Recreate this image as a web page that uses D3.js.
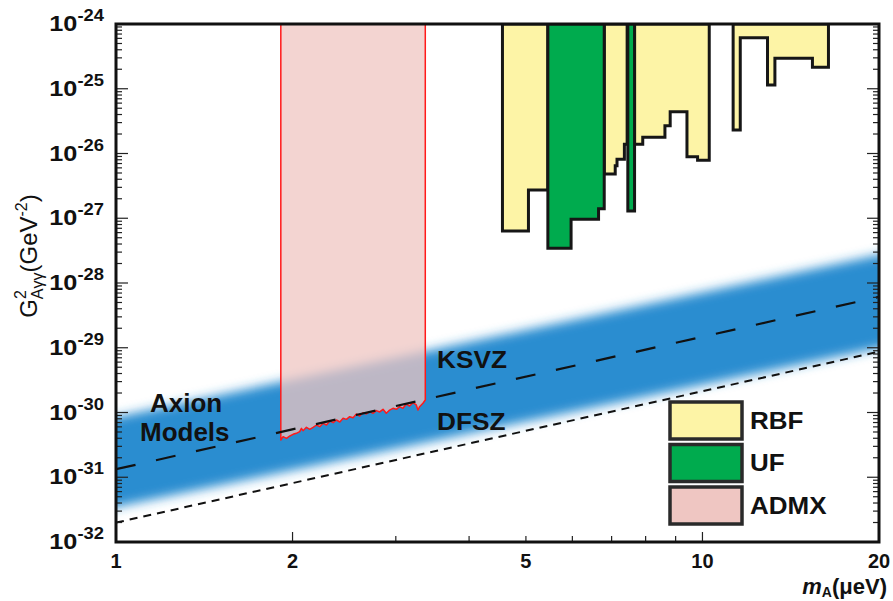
<!DOCTYPE html>
<html>
<head>
<meta charset="utf-8">
<script src="https://cdn.jsdelivr.net/npm/d3@7"></script>
<style>
  html, body { margin: 0; padding: 0; background: #fff; }
  svg { display: block; }
  text { font-family: "Liberation Sans", Arial, sans-serif; }
</style>
</head>
<body>
<svg id="chart" width="893" height="601"></svg>
<script>
// Axion mass range (µeV) and coupling range (GeV^-2)
const massDomain = [1, 20];
const couplingDomain = [1e-32, 1e-24];
const massTicks = [1, 2, 5, 10, 20];
const couplingTickExponents = [-24, -25, -26, -27, -28, -29, -30, -31, -32];

// Model lines (m in µeV, G^2 in GeV^-2)
const ksvzMass = [1, 20];
const ksvzCoupling = [1.33e-31, 6.1e-29];
const dfszMass = [1, 20];
const dfszCoupling = [1.99e-32, 8.7e-30];

// Axion-model band edges
const bandMass = [1, 20];
const bandUpper = [8.5e-31, 2.71e-28];
const bandLower = [3.48e-32, 9.9e-30];

// RBF exclusion regions: step edges (µeV) and floor of each step
const rbfA_edges = [4.56, 5.05, 5.45];
const rbfA_floor = [6.35e-28, 2.73e-27];
const rbfB_edges = [6.80, 7.10, 7.15, 7.36, 7.44];
const rbfB_floor = [4.82e-27, 6.48e-27, 8.13e-27, 1.39e-26];
const rbfC_edges = [7.66, 7.91, 8.63, 8.81, 9.41, 9.81, 10.27];
const rbfC_floor = [1.39e-26, 1.78e-26, 2.69e-26, 4.42e-26, 8.93e-27, 7.85e-27];
const rbfD_edges = [11.28, 11.60, 12.91, 13.29, 15.40, 16.40];
const rbfD_floor = [2.31e-26, 6.14e-25, 1.14e-25, 2.95e-25, 2.14e-25];

// UF exclusion regions
const ufA_edges = [5.45, 5.97, 6.65, 6.80];
const ufA_floor = [3.43e-28, 9.64e-28, 1.40e-27];
const ufB_edges = [7.46, 7.66];
const ufB_floor = [1.29e-27];

// ADMX exclusion limit
const admxMass = [1.910,1.927,1.953,1.979,2.004,2.030,2.057,2.071,2.084,2.112,2.140,2.168,2.197,2.226,2.255,2.285,2.315,2.346,2.376,2.408,2.439,2.471,2.503,2.536,2.570,2.603,2.638,2.672,2.707,2.743,2.779,2.816,2.853,2.890,2.928,2.967,3.006,3.045,3.085,3.126,3.167,3.209,3.251,3.272,3.294,3.337,3.368];
const admxLimit = [3.76e-31,4.23e-31,3.99e-31,4.34e-31,4.60e-31,4.77e-31,5.06e-31,5.70e-31,5.24e-31,5.90e-31,5.50e-31,5.90e-31,6.41e-31,6.04e-31,6.80e-31,6.41e-31,7.39e-31,6.97e-31,7.66e-31,7.13e-31,8.13e-31,7.84e-31,8.62e-31,8.32e-31,9.48e-31,8.83e-31,9.94e-31,9.48e-31,1.03e-30,9.71e-31,1.07e-30,1.02e-30,1.12e-30,9.71e-31,1.09e-30,1.16e-30,1.12e-30,1.23e-30,1.16e-30,1.35e-30,1.26e-30,1.42e-30,1.31e-30,1.09e-30,1.23e-30,1.39e-30,1.56e-30];

const legendLabels = ["RBF", "UF", "ADMX"];
const colors = { rbf: "#fdf4a6", uf: "#00ab4e", admx: "#efc6c2", band: "#2a8dd0" };

(function draw() {
  const svg = d3.select("#chart");
  const pl = 116, pr = 879, pt = 24, pb = 542;

  const x = d3.scaleLog().domain(massDomain).range([pl, pr]);
  const y = d3.scaleLog().domain(couplingDomain).range([pb, pt]);

  const defs = svg.append("defs");
  defs.append("clipPath").attr("id", "plotClip")
    .append("rect").attr("x", pl).attr("y", pt).attr("width", pr - pl).attr("height", pb - pt);
  defs.append("filter").attr("id", "soft").attr("x", "-20%").attr("y", "-20%").attr("width", "140%").attr("height", "140%")
    .append("feGaussianBlur").attr("stdDeviation", 5.5);

  const plot = svg.append("g").attr("clip-path", "url(#plotClip)");

  // Model band: extend edges past the frame so the blur only softens top/bottom
  function extendLine(p0, p1, ext) {
    const s = (p1[1] - p0[1]) / (p1[0] - p0[0]);
    return [[p0[0] - ext, p0[1] - s * ext], [p1[0] + ext, p1[1] + s * ext]];
  }
  const up = extendLine([x(bandMass[0]), y(bandUpper[0])], [x(bandMass[1]), y(bandUpper[1])], 40);
  const lo = extendLine([x(bandMass[0]), y(bandLower[0])], [x(bandMass[1]), y(bandLower[1])], 40);
  plot.append("g").attr("filter", "url(#soft)")
    .append("path")
    .attr("d", "M" + [up[0], up[1], lo[1], lo[0]].map(p => p.join(",")).join("L") + "Z")
    .attr("fill", colors.band);

  // ADMX excluded region
  const lineGen = d3.line().x(d => x(d[0])).y(d => y(d[1]));
  const admxPts = admxMass.map((m, i) => [m, admxLimit[i]]);
  const admxArea = [[admxMass[0], couplingDomain[1]], ...admxPts, [admxMass[admxMass.length - 1], couplingDomain[1]]];
  plot.append("path").attr("d", lineGen(admxArea) + "Z")
    .attr("fill", colors.admx).attr("fill-opacity", 0.75)
    .attr("stroke", "#ff1a1a").attr("stroke-width", 1.5).attr("stroke-linejoin", "round");

  // Step-shaped exclusion blocks
  function stepPoints(edges, floors) {
    const pts = [[edges[0], couplingDomain[1]]];
    floors.forEach((f, i) => { pts.push([edges[i], f]); pts.push([edges[i + 1], f]); });
    pts.push([edges[edges.length - 1], couplingDomain[1]]);
    return pts;
  }
  const blocks = [
    [rbfA_edges, rbfA_floor, colors.rbf],
    [rbfB_edges, rbfB_floor, colors.rbf],
    [rbfC_edges, rbfC_floor, colors.rbf],
    [rbfD_edges, rbfD_floor, colors.rbf],
    [ufA_edges, ufA_floor, colors.uf],
    [ufB_edges, ufB_floor, colors.uf]
  ];
  blocks.forEach(([e, f, c]) => {
    plot.append("path").attr("d", lineGen(stepPoints(e, f)) + "Z")
      .attr("fill", c).attr("stroke", "#161616").attr("stroke-width", 3).attr("stroke-linejoin", "miter");
  });

  // KSVZ and DFSZ model lines
  plot.append("path").attr("d", lineGen(ksvzMass.map((m, i) => [m, ksvzCoupling[i]])))
    .attr("fill", "none").attr("stroke", "#111").attr("stroke-width", 2.2).attr("stroke-dasharray", "20,21");
  plot.append("path").attr("d", lineGen(dfszMass.map((m, i) => [m, dfszCoupling[i]])))
    .attr("fill", "none").attr("stroke", "#111").attr("stroke-width", 2).attr("stroke-dasharray", "8,6");

  // Ticks (inward) on left, right and bottom
  const tickG = svg.append("g").attr("stroke", "#222").attr("stroke-width", 1.2);
  for (let e = -32; e < -24; e++) {
    for (let k = 1; k <= 9; k++) {
      if (k === 1 && e === -32) continue;
      const yy = y(k * Math.pow(10, e));
      const len = k === 1 ? 12 : 6;
      tickG.append("line").attr("x1", pl).attr("x2", pl + len).attr("y1", yy).attr("y2", yy);
      tickG.append("line").attr("x1", pr).attr("x2", pr - len).attr("y1", yy).attr("y2", yy);
    }
  }
  [2, 3, 4, 5, 6, 7, 8, 9, 10].forEach(m => {
    const len = (m === 2 || m === 10) ? 10 : 6;
    tickG.append("line").attr("x1", x(m)).attr("x2", x(m)).attr("y1", pb).attr("y2", pb - len);
  });

  // Frame
  svg.append("rect").attr("x", pl).attr("y", pt).attr("width", pr - pl).attr("height", pb - pt)
    .attr("fill", "none").attr("stroke", "#111").attr("stroke-width", 3);

  // Y tick labels: 10^n
  couplingTickExponents.forEach(e => {
    const t = svg.append("text")
      .attr("transform", `translate(104,${y(Math.pow(10, e)) + 7}) scale(1.15,1)`)
      .attr("text-anchor", "end").attr("font-weight", "bold").attr("font-size", 22).attr("fill", "#111");
    t.append("tspan").text("10");
    t.append("tspan").attr("dy", -10).attr("font-size", 16).text("-" + Math.abs(e));
  });

  // X tick labels
  massTicks.forEach(m => {
    svg.append("text").attr("x", x(m)).attr("y", 568).attr("text-anchor", "middle")
      .attr("font-weight", "bold").attr("font-size", 20).attr("fill", "#111").text(m);
  });

  // Axis titles
  const xt = svg.append("text").attr("x", 887).attr("y", 594).attr("text-anchor", "end")
    .attr("font-weight", "bold").attr("font-size", 22).attr("fill", "#111");
  xt.append("tspan").attr("font-style", "italic").text("m");
  xt.append("tspan").attr("font-size", 14).attr("dy", 3).text("A");
  xt.append("tspan").attr("dy", -3).text("(\u03bceV)");

  const yt = svg.append("text").attr("transform", "translate(37,256) rotate(-90)")
    .attr("text-anchor", "middle").attr("font-size", 24).attr("fill", "#111");
  yt.append("tspan").text("G");
  yt.append("tspan").attr("font-size", 16).attr("dy", -11).text("2");
  yt.append("tspan").attr("font-size", 16).attr("dx", -9).attr("dy", 17).text("A\u03b3\u03b3");
  yt.append("tspan").attr("dy", -6).text("(GeV");
  yt.append("tspan").attr("font-size", 16).attr("dy", -10).text("-2");
  yt.append("tspan").attr("dy", 10).text(")");

  // In-plot annotations
  function label(txt, px, py, size, sx) {
    svg.append("text").attr("transform", `translate(${px},${py}) scale(${sx},1)`)
      .attr("font-weight", "bold").attr("font-size", size).attr("fill", "#111").text(txt);
  }
  label("Axion", 150, 412, 25, 1.04);
  label("Models", 140, 441, 25, 1.04);
  label("KSVZ", 437, 368, 23, 1.14);
  label("DFSZ", 437, 430, 23, 1.14);

  // Legend
  const legendColors = [colors.rbf, colors.uf, colors.admx];
  const legendTops = [402, 444.5, 487];
  legendLabels.forEach((lab, i) => {
    svg.append("rect").attr("x", 670).attr("y", legendTops[i]).attr("width", 72).attr("height", 37)
      .attr("fill", legendColors[i]).attr("stroke", "#2a2a2a").attr("stroke-width", 3.5);
    label(lab, 750, legendTops[i] + 26.5, 23, 1.13);
  });
})();
</script>
</body>
</html>
